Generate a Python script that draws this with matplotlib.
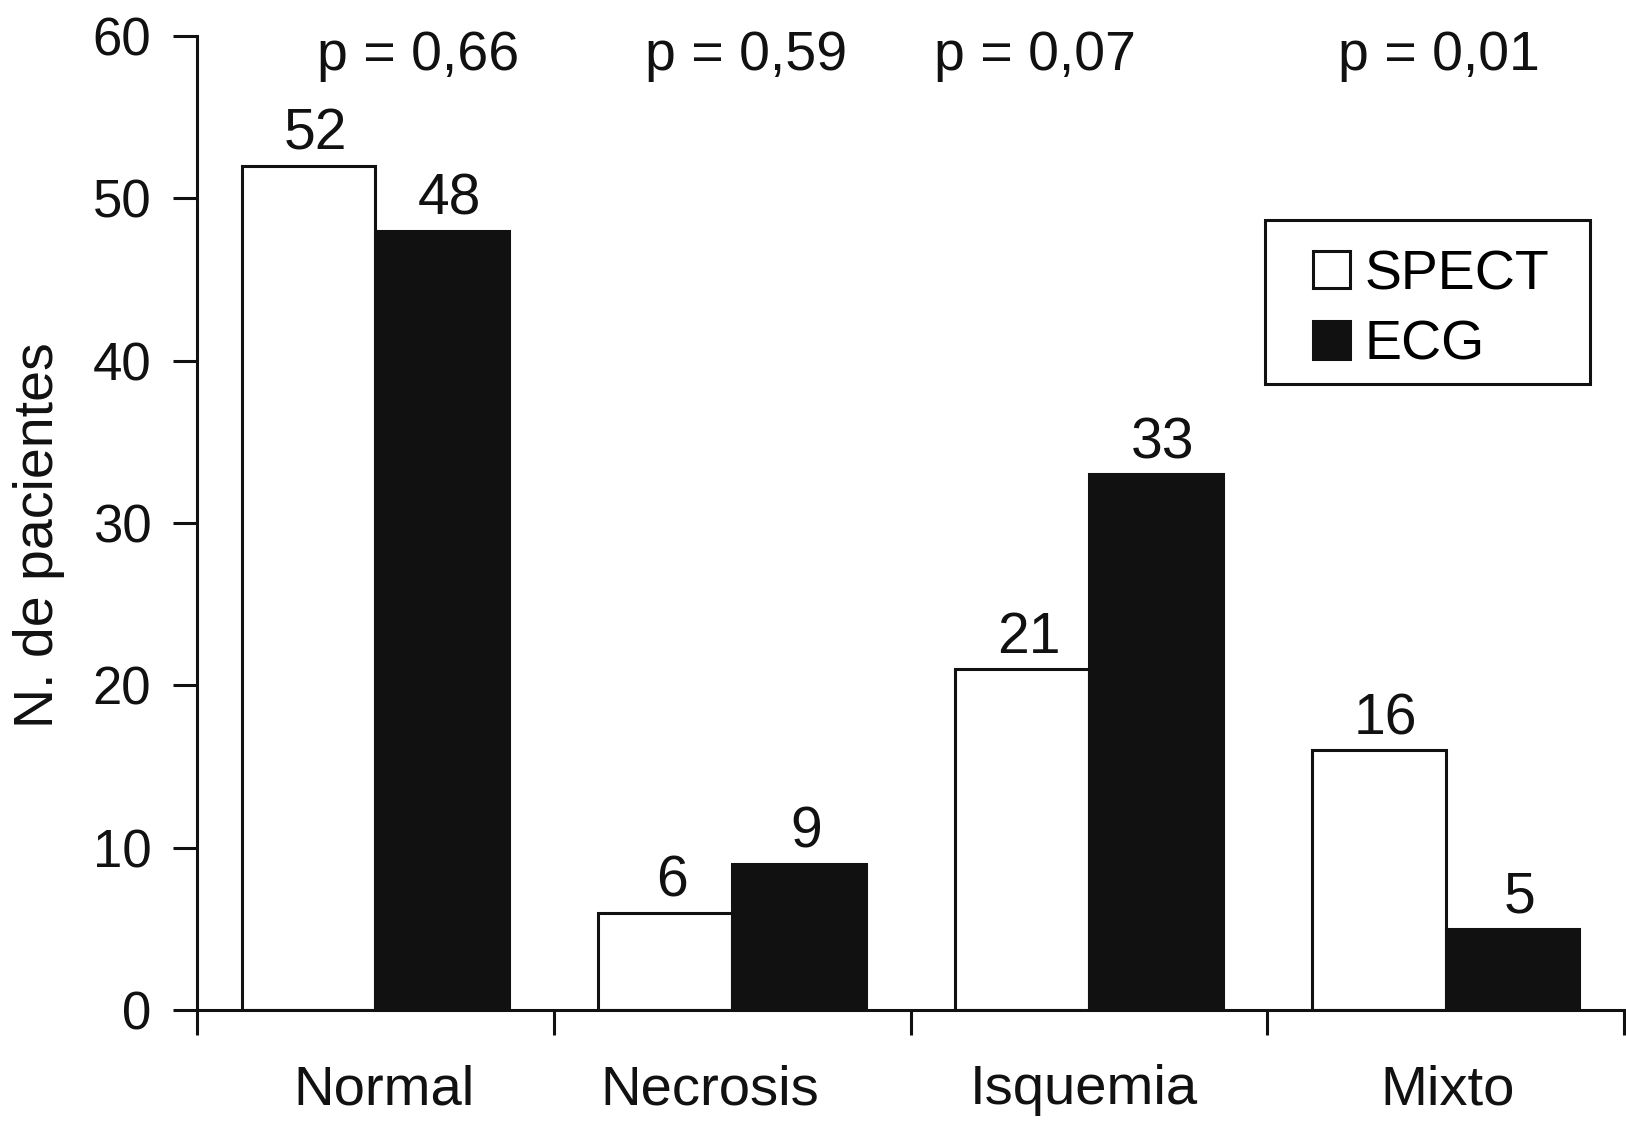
import matplotlib
matplotlib.use('Agg')
import matplotlib.pyplot as plt
from matplotlib.patches import Rectangle
import numpy as np

# data
categories = ['Normal', 'Necrosis', 'Isquemia', 'Mixto']
spect = [52, 6, 21, 16]
ecg = [48, 9, 33, 5]
p_values = ['p = 0,66', 'p = 0,59', 'p = 0,07', 'p = 0,01']

# layout tweaks
p_offsets = [0.12, 0.04, -0.15, -0.02]
label_offsets = [0.024, -0.062, -0.015, 0.005]
fs = 40
ink = '#111111'

plt.rcParams['font.family'] = ['Liberation Sans', 'DejaVu Sans']

fig = plt.figure(figsize=(16.26, 11.23), dpi=100)
ax = fig.add_axes([197 / 1626, 1 - 1010 / 1123, 1427 / 1626, 974 / 1123])

x = np.arange(len(categories)) + 0.5
w = 0.375
ax.bar(x - w / 2, spect, w, color='white', edgecolor=ink, linewidth=2.2, label='SPECT')
ax.bar(x + w / 2, ecg, w, color=ink, edgecolor=ink, linewidth=2.2, label='ECG')

for xi, v in zip(x - w / 2, spect):
    ax.text(xi + 0.02, v + 1.0, str(v), ha='center', va='baseline', fontsize=41, color=ink)
for xi, v in zip(x + w / 2, ecg):
    ax.text(xi + 0.02, v + 1.0, str(v), ha='center', va='baseline', fontsize=41, color=ink)

for xi, off, p in zip(x, p_offsets, p_values):
    ax.text(xi + off, 57.9, p, ha='center', va='baseline', fontsize=fs, color=ink)

ax.set_xlim(0, 4)
ax.set_ylim(0, 60)
ax.set_yticks(range(0, 61, 10))
ax.set_xticks(x + np.array(label_offsets))
ax.set_xticklabels(categories)
ax.set_xticks(np.arange(0, 5), minor=True)
ax.tick_params(axis='x', which='major', length=0, pad=39, labelsize=40.5, colors=ink)
ax.tick_params(axis='x', which='minor', length=18, width=2.2, color=ink)
ax.tick_params(axis='y', length=17, width=2.2, pad=16, labelsize=38, colors=ink)

for s in ['top', 'right']:
    ax.spines[s].set_visible(False)
for s in ['left', 'bottom']:
    ax.spines[s].set_linewidth(2.2)
    ax.spines[s].set_color(ink)

ax.set_ylabel('N. de pacientes', fontsize=fs, color=ink, labelpad=20)
ax.yaxis.label.set_y(0.488)

# legend: contents without frame, box drawn separately
leg = ax.legend(loc='upper left', bbox_to_anchor=(1313 / 1626, 1 - 249 / 1123),
                bbox_transform=fig.transFigure, borderaxespad=0, borderpad=0,
                fontsize=fs, frameon=False, handlelength=0.67, handleheight=0.67,
                handletextpad=0.25, labelspacing=0.33)
fig.patches.append(Rectangle((1265 / 1626, 1 - 384 / 1123), 325 / 1626, 164 / 1123,
                             transform=fig.transFigure, fill=False,
                             edgecolor=ink, linewidth=2.2))

fig.savefig('out.png', dpi=100)
